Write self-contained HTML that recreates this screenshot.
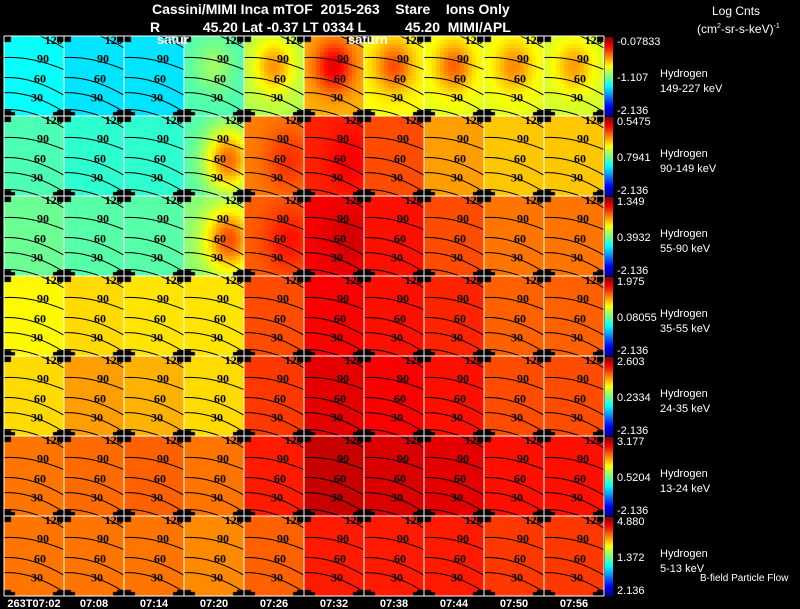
<!DOCTYPE html>
<html><head><meta charset="utf-8"><style>
body{margin:0;background:#000;width:800px;height:609px;overflow:hidden;position:relative;font-family:"Liberation Sans",sans-serif;color:#fff}
.t{position:absolute;white-space:nowrap;font-size:13px;line-height:13px}
.s{position:absolute;white-space:nowrap;font-size:11px;line-height:11px}
.cb{position:absolute;left:605px;width:8px;height:79px;background:linear-gradient(#800000,#ff0000 12%,#ffff00 37%,#00ffff 62%,#0000ff 88%,#00008f)}
</style></head><body>
<canvas id="cv" width="800" height="609" style="position:absolute;left:0;top:0"></canvas>
<svg id="ov" width="800" height="609" style="position:absolute;left:0;top:0"></svg>
<div class="t" style="left:152px;top:3px;font-size:14px;font-weight:bold">Cassini/MIMI Inca mTOF&nbsp; 2015-263&nbsp;&nbsp;&nbsp; Stare&nbsp;&nbsp;&nbsp; Ions Only</div>
<div class="t" style="left:150px;top:21px;font-size:14px;font-weight:bold">R&nbsp;&nbsp;&nbsp;&nbsp;&nbsp;&nbsp;&nbsp;&nbsp;&nbsp;&nbsp; 45.20 Lat -0.37 LT 0334 L&nbsp;&nbsp;&nbsp;&nbsp;&nbsp;&nbsp;&nbsp;&nbsp;&nbsp; 45.20&nbsp; MIMI/APL</div>
<div class="t" style="left:157px;top:33px;font-weight:bold">satur</div>
<div class="t" style="left:348px;top:33px;font-weight:bold">saturn</div>
<div class="s" style="left:712px;top:6px;font-size:12px">Log Cnts</div>
<div class="s" style="left:697px;top:21px;font-size:12px">(cm<sup style="font-size:7px">2</sup>-sr-s-keV)<sup style="font-size:7px">-1</sup></div>
<div class="s" style="left:700px;top:573px;font-size:10px">B-field Particle Flow</div>
<div id="side"></div>
<script>
const times=["263T07:02","07:08","07:14","07:20","07:26","07:32","07:38","07:44","07:50","07:56"];
const energies=["149-227 keV","90-149 keV","55-90 keV","35-55 keV","24-35 keV","13-24 keV","5-13 keV"];
const cbTop=["-0.07833","0.5475","1.349","1.975","2.603","3.177","4.880"];
const cbMid=["-1.107","0.7941","0.3932","0.08055","0.2334","0.5204","1.372"];
const cbBot=["-2.136","-2.136","-2.136","-2.136","-2.136","-2.136","2.136"];
const base=[
[0.38,0.35,0.35,0.45,0.55,0.70,0.62,0.60,0.60,0.58],
[0.45,0.42,0.42,0.45,0.75,0.84,0.80,0.72,0.68,0.68],
[0.48,0.46,0.46,0.50,0.78,0.88,0.86,0.80,0.76,0.76],
[0.63,0.66,0.65,0.65,0.80,0.88,0.86,0.84,0.78,0.78],
[0.66,0.72,0.70,0.66,0.82,0.90,0.88,0.86,0.80,0.80],
[0.76,0.77,0.78,0.76,0.85,0.93,0.91,0.90,0.86,0.86],
[0.76,0.76,0.76,0.74,0.78,0.85,0.85,0.85,0.82,0.82]];
const hot=[
[0,0,0,0.08,0.18,0.2,0.18,0.18,0.14,0.14],
[0,0,0,0.32,0.08,0.04,0,0,0,0],
[0,0,0,0.3,0.08,0.04,0,0,0,0],
[0,0,0,0,0,0,0,0,0,0],
[0,0,0,0,0,0,0,0,0,0],
[0,0,0,0,0,0,0,0,0,0],
[0,0,0,0,0,0,0,0,0,0]];
const contourLabels=["120","90","60","30"];

const X0=4,Y0=36,PW=60,PH=80;
function xCol(c){return X0+c*PW;}
function yRow(r){return Y0+r*PH;}
function jet(v){v=Math.max(0,Math.min(1,v));
 const f=t=>Math.max(0,Math.min(1,1.5-Math.abs(4*v-t)));
 return [f(3),f(2),f(1)].map(x=>Math.round(x*255));}
const ctx=document.getElementById('cv').getContext('2d');
const NS="http://www.w3.org/2000/svg",ov=document.getElementById('ov');
function mk(tag,attrs){const e=document.createElementNS(NS,tag);for(const k in attrs)e.setAttribute(k,attrs[k]);ov.appendChild(e);return e;}
for(let r=0;r<7;r++)for(let c=0;c<10;c++){
 const x0=xCol(c),y0=yRow(r),b=base[r][c],h=hot[r][c];
 for(let i=0;i<15;i++)for(let j=0;j<20;j++){
  const u=(i+0.5)/15,w=(j+0.5)/20;
  const hx=r===0?0.5:0.75,hy=r===0?0.38:0.55,rad=r===0?0.1:0.16;
  const d2=((u-hx)**2+(w-hy)**2)/rad;
  let v=b+h*Math.exp(-d2);
  const col=jet(v);
  ctx.fillStyle=`rgb(${col[0]},${col[1]},${col[2]})`;
  ctx.fillRect(x0+i*4,y0+j*4,4,4);
 }
 ctx.fillStyle='#000';
 [[0,0],[PW-7,0],[0,PH-6],[PW-7,PH-6]].forEach(p=>ctx.fillRect(x0+p[0],y0+p[1],7,6));
 ctx.fillRect(x0+PW-11,y0+PH-4,11,4);ctx.fillRect(x0,y0+PH-4,11,4);
 const lines=[[-0.08,0.15],[0.27,0.42],[0.52,0.74],[0.71,0.95]];
 lines.forEach((L,k)=>{
  const p=mk('path',{d:`M${x0} ${y0+L[0]*PH} Q${x0+0.45*PW} ${y0+(L[0]-0.02)*PH} ${x0+PW} ${y0+L[1]*PH}`,fill:'none',stroke:'#000','stroke-width':1});
  
  
  const lx=[0.68,0.55,0.5,0.45][k],ly=[0.1,0.33,0.58,0.82][k];
  const t=mk('text',{x:x0+lx*PW,y:y0+ly*PH,'font-size':12,'font-family':'Liberation Serif,serif','font-weight':'bold',fill:'#000'});
  t.textContent=contourLabels[k];
  
  
 });
}
for(let c=0;c<=10;c++){const l=mk('line',{x1:xCol(c),x2:xCol(c),y1:Y0,y2:Y0+7*PH,stroke:'#fff','stroke-width':1});
 
 }
for(let r=0;r<=7;r++){const l=mk('line',{x1:X0,x2:X0+10*PW,y1:yRow(r),y2:yRow(r),stroke:'#fff','stroke-width':1});
 
 }
times.forEach((t,c)=>{const e=mk('text',{x:xCol(c)+30,y:607,'text-anchor':'middle','font-size':11,'font-weight':'bold',fill:'#fff','font-family':'Liberation Sans,sans-serif'});
 e.textContent=t;
 
 });
const side=document.getElementById('side');
for(let r=0;r<7;r++){const y=yRow(r);
 const cb=document.createElement('div');cb.className='cb';cb.style.top=(y+1)+'px';
 
 side.appendChild(cb);
 [[cbTop[r],y+1,'colorbar-max'],[cbMid[r],y+37,'colorbar-mid'],[cbBot[r],y+70,'colorbar-min']].forEach(a=>{
  const d=document.createElement('div');d.className='s';d.style.left='617px';d.style.top=a[1]+'px';d.textContent=a[0];
  
  side.appendChild(d);});
 const h=document.createElement('div');h.className='s';h.style.left='660px';h.style.top=(y+31)+'px';h.style.lineHeight='15px';
 h.innerHTML='Hydrogen<br>'+energies[r];
 
 side.appendChild(h);}
</script>
</body></html>
